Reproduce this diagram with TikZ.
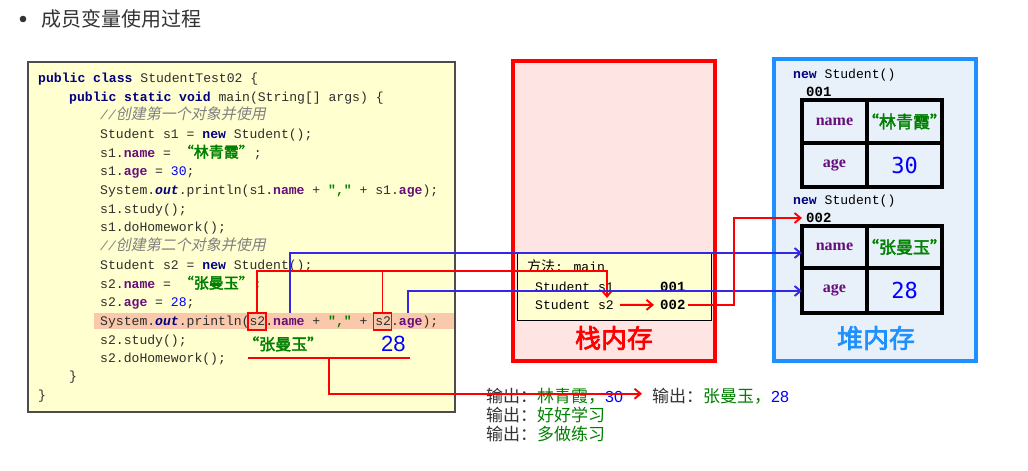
\documentclass[tikz,border=0pt]{standalone}
\usepackage{fontspec}
\setmainfont{Liberation Serif}
\newfontfamily\cjk{Noto Sans CJK SC}
\newfontfamily\cjkb{Noto Sans CJK SC}[FakeBold=2.5]
\newfontfamily\cjki{Noto Sans CJK SC}[FakeSlant=0.2]
\newfontfamily\mono{Liberation Mono}
\newfontfamily\dsm{DejaVu Sans Mono}
\newfontfamily\lsans{Liberation Sans}
\usetikzlibrary{arrows.meta}
\definecolor{txt}{RGB}{51,51,51}
\definecolor{codetxt}{RGB}{45,45,45}
\definecolor{kwc}{RGB}{0,0,128}
\definecolor{fdc}{RGB}{102,14,122}
\definecolor{strg}{RGB}{0,128,0}
\definecolor{numc}{RGB}{0,0,255}
\definecolor{cmt}{RGB}{128,128,128}
\definecolor{codebg}{RGB}{255,255,208}
\definecolor{hl}{RGB}{250,200,170}
\definecolor{stackbg}{RGB}{255,228,228}
\definecolor{heapbg}{RGB}{232,240,250}
\definecolor{heapbd}{RGB}{30,144,255}
\definecolor{arrred}{RGB}{255,0,0}
\definecolor{arrblue}{RGB}{50,40,230}
\newcommand\kwd[1]{{\bfseries\color{kwc}#1}}
\newcommand\fld[1]{{\bfseries\color{fdc}#1}}
\newcommand\strz[1]{{\cjkb\fontsize{15}{15}\selectfont\color{strg}#1}}
\newcommand\numz[1]{{\color{numc}#1}}
\newcommand\outz{{\bfseries\itshape\color{kwc}out}}
\newcommand\cmtz[1]{{\itshape\color{cmt}//{\cjki\fontsize{15}{15}\selectfont#1}}}
\tikzset{
  codeln/.style={anchor=base west,inner sep=0pt,text=codetxt,font=\mono\fontsize{13.1}{15}\selectfont},
  monotxt/.style={anchor=base west,inner sep=0pt,text=black,font=\mono\fontsize{13.1}{15}\selectfont},
  cell/.style={inner sep=0pt},
  fieldlbl/.style={cell,text=fdc,font=\bfseries\fontsize{16}{16}\selectfont},
  strval/.style={cell,text=strg,font=\cjkb\fontsize{17}{17}\selectfont},
  numval/.style={cell,text=numc,font=\dsm\fontsize{22}{22}\selectfont},
  tbl/.style={line width=3.5pt,black},
  redline/.style={draw=arrred,line width=1.9pt},
  redarr/.style={redline,-{Straight Barb[length=6pt,width=10pt,line width=1.9pt]}},
  bluearr/.style={draw=arrblue,line width=1.9pt,-{Straight Barb[length=6pt,width=10pt,line width=1.9pt]}},
  s2box/.style={draw=arrred,line width=1.9pt,minimum width=18pt,minimum height=17pt,inner sep=0pt},
  outln/.style={anchor=base west,inner sep=0pt,font=\cjk\fontsize{17}{17}\selectfont,text=txt},
}
\begin{document}
\begin{tikzpicture}[x=1pt,y=-1pt]
\useasboundingbox[fill=white] (0,0) rectangle (1028,471);
% heading
\fill[txt] (23,19) circle (3.3);
\node[anchor=west,inner sep=0pt,text=txt,font=\cjk\fontsize{20}{20}\selectfont] (head) at (41,19) {成员变量使用过程};
% code box
\draw[fill=codebg,draw=black!70,line width=1.2pt] (28,62) rectangle (455,412);
\fill[hl] (94,313) rectangle (454.4,329);
\node[codeln] (c1) at (38,82.5) {\kwd{public class} StudentTest02 \{};
\node[codeln] (c2) at (69,101.5) {\kwd{public static void} main(String[] args) \{};
\node[codeln] (c3) at (100,119.5) {\cmtz{创建第一个对象并使用}};
\node[codeln] (c4) at (100,138.5) {Student s1 = \kwd{new} Student();};
\node[codeln] (c5) at (100,157.5) {s1.\fld{name} = \strz{“林青霞”};};
\node[codeln] (c6) at (100,175.5) {s1.\fld{age} = \numz{30};};
\node[codeln] (c7) at (100,194.5) {System.\outz.println(s1.\fld{name} + {\bfseries\color{strg}","} + s1.\fld{age});};
\node[codeln] (c8) at (100,213.5) {s1.study();};
\node[codeln] (c9) at (100,231.5) {s1.doHomework();};
\node[codeln] (c10) at (100,250.5) {\cmtz{创建第二个对象并使用}};
\node[codeln] (c11) at (100,269.5) {Student s2 = \kwd{new} Student();};
\node[codeln] (c12) at (100,288.5) {s2.\fld{name} = \strz{“张曼玉”};};
\node[codeln] (c13) at (100,306.5) {s2.\fld{age} = \numz{28};};
\node[codeln] (c14) at (100,325.5) {System.\outz.println(s2.\fld{name} + {\bfseries\color{strg}","} + s2.\fld{age});};
\node[codeln] (c15) at (100,344.5) {s2.study();};
\node[codeln] (c16) at (100,362.5) {s2.doHomework();};
\node[codeln] (c17) at (69,380.5) {\}};
\node[codeln] (c18) at (38,399.5) {\}};
% values under the println line
\node[anchor=west,inner sep=0pt,text=strg,font=\cjkb\fontsize{16}{16}\selectfont] (vname) at (243,344) {“张曼玉”};
\node[anchor=west,inner sep=0pt,text=numc,font=\lsans\fontsize{22}{22}\selectfont] (vage) at (381,344) {28};
% stack memory
\draw[fill=stackbg,draw=arrred,line width=4pt] (513,61) rectangle (715,361);
\draw[fill=codebg,draw=black,line width=0.8pt] (517,252) rectangle (711,320);
\node[monotxt] (meth) at (527,271.5) {{\cjk\fontsize{14}{14}\selectfont 方法}: main};
\node[monotxt] (ss1) at (535,291) {Student s1};
\node[monotxt] (ss2) at (535,309.5) {Student s2};
\node[monotxt,font=\mono\bfseries\fontsize{14}{15}\selectfont] (v001) at (660,291) {001};
\node[monotxt,font=\mono\bfseries\fontsize{14}{15}\selectfont] (v002) at (660,309.5) {002};
\node[inner sep=0pt,text=arrred,font=\cjkb\fontsize{26}{26}\selectfont] (stk) at (614,338) {栈内存};
% heap memory
\draw[fill=heapbg,draw=heapbd,line width=4pt] (774,59) rectangle (976,361);
\node[monotxt] (ns1) at (793,78.5) {\kwd{new} Student()};
\node[monotxt,font=\mono\bfseries\fontsize{14}{15}\selectfont] (l001) at (806,96.5) {001};
\draw[tbl] (802,100) rectangle (942,187);
\draw[tbl] (867,100) -- (867,187);
\draw[tbl] (802,143) -- (942,143);
\node[fieldlbl] (t1name) at (834.5,121.5) {name};
\node[strval] (t1val) at (904.5,121.5) {“林青霞”};
\node[fieldlbl] (t1age) at (834.5,165) {age};
\node[numval] (t1num) at (904.5,165) {30};
\node[monotxt] (ns2) at (793,204.5) {\kwd{new} Student()};
\node[anchor=west,inner sep=0pt,font=\mono\bfseries\fontsize{14}{15}\selectfont] (l002) at (806,218) {002};
\draw[tbl] (802,226) rectangle (942,313);
\draw[tbl] (867,226) -- (867,313);
\draw[tbl] (802,268) -- (942,268);
\node[fieldlbl] (t2name) at (834.5,247) {name};
\node[strval] (t2val) at (904.5,247) {“张曼玉”};
\node[fieldlbl] (t2age) at (834.5,290.5) {age};
\node[numval] (t2num) at (904.5,290.5) {28};
\coordinate (t2nw) at (802,253);
\coordinate (t2aw) at (802,291);
\node[inner sep=0pt,text=heapbd,font=\cjkb\fontsize{26}{26}\selectfont] (hp) at (876,338) {堆内存};
% outputs
\node[outln] (out1) at (486,402) {输出：{\color{strg}林青霞，}{\lsans\fontsize{16}{16}\selectfont\color{numc}30}};
\node[outln] (out2) at (652,402) {输出：{\color{strg}张曼玉，}{\lsans\fontsize{16}{16}\selectfont\color{numc}28}};
\node[outln] (out3) at (486,421) {输出：{\color{strg}好好学习}};
\node[outln] (out4) at (486,440) {输出：{\color{strg}多做练习}};
% connectors
\node[s2box] (s2a) at (257.2,321.5) {};
\node[s2box] (s2b) at (382.5,321.5) {};
\coordinate (rj) at (607,271);
\coordinate (rt) at (607,298);
\draw[redarr] (s2a.north) |- (rj) -- (rt);
\draw[redline] (s2b.north) -- (s2b.north |- rj);
\coordinate (bn) at (290,313);
\coordinate (ba) at (408,313);
\draw[bluearr] (bn) |- (t2nw);
\draw[bluearr] (ba) |- (t2aw);
\draw[redarr] ([xshift=6pt]ss2.east) -- ([xshift=-6pt]v002.west);
\draw[redarr] ([xshift=2pt]v002.east) -| ([xshift=-72pt]l002.west) -- ([xshift=-4pt]l002.west);
\coordinate (ua) at (248,358);
\coordinate (ub) at (410,358);
\coordinate (um) at (329,358);
\draw[redline] (ua) -- (ub);
\draw[redarr] (um) |- ([xshift=-10pt,yshift=2pt]out2.west);
\end{tikzpicture}
\end{document}
